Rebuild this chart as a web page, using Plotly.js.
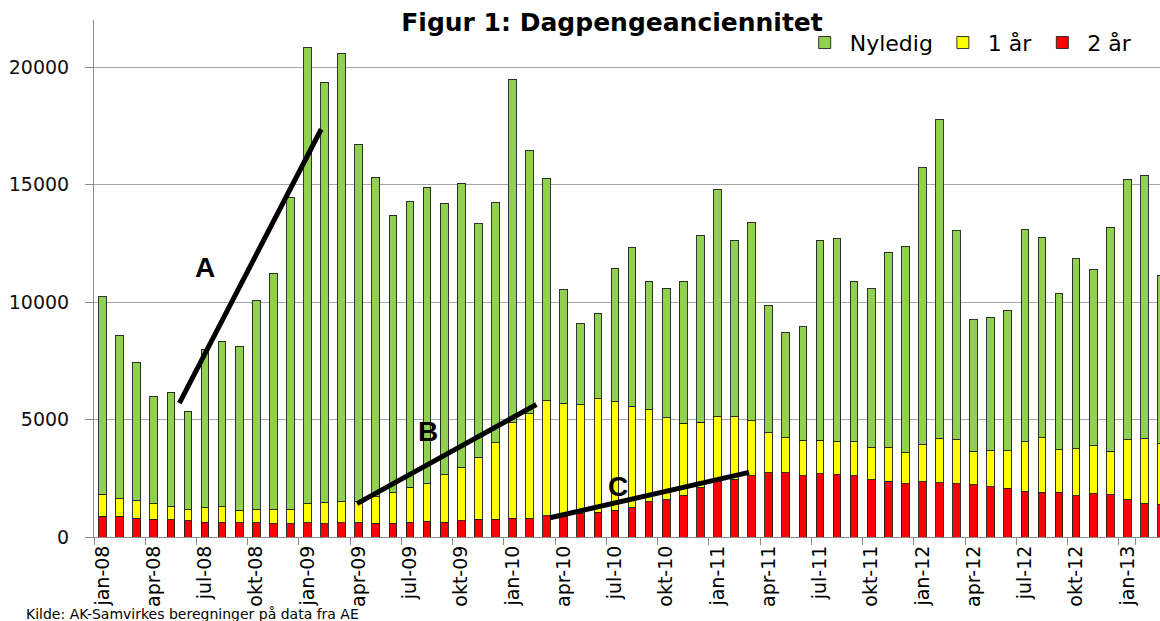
<!DOCTYPE html>
<html>
<head>
<meta charset="utf-8">
<script src="https://cdn.plot.ly/plotly-3.0.1.min.js"></script>
<style>
html,body{margin:0;padding:0;background:#fff;}
#chart{width:1160px;height:621px;}
</style>
</head>
<body>
<div id="chart"></div>
<script>
var months = ["jan-08","feb-08","mar-08","apr-08","mai-08","jun-08","jul-08","aug-08","sep-08","okt-08","nov-08","des-08",
"jan-09","feb-09","mar-09","apr-09","mai-09","jun-09","jul-09","aug-09","sep-09","okt-09","nov-09","des-09",
"jan-10","feb-10","mar-10","apr-10","mai-10","jun-10","jul-10","aug-10","sep-10","okt-10","nov-10","des-10",
"jan-11","feb-11","mar-11","apr-11","mai-11","jun-11","jul-11","aug-11","sep-11","okt-11","nov-11","des-11",
"jan-12","feb-12","mar-12","apr-12","mai-12","jun-12","jul-12","aug-12","sep-12","okt-12","nov-12","des-12",
"jan-13","feb-13","mar-13"];

var tickLabels = ["jan-08","apr-08","jul-08","okt-08","jan-09","apr-09","jul-09","okt-09","jan-10","apr-10","jul-10","okt-10",
"jan-11","apr-11","jul-11","okt-11","jan-12","apr-12","jul-12","okt-12","jan-13"];

var toAar = [885,885,800,757,732,689,630,630,604,604,562,562,604,562,604,600,595,587,630,672,630,689,757,757,800,800,902,880,987,1055,1128,1250,1498,1583,1753,2093,2350,2460,2604,2732,2732,2604,2689,2647,2604,2447,2362,2276,2349,2306,2276,2221,2149,2076,1949,1906,1906,1753,1838,1796,1583,1413,1383];

var etAar = [936,740,740,656,566,468,625,668,524,566,595,608,809,906,894,920,1115,1294,1489,1604,2017,2281,2639,3264,4059,4455,4893,4800,4651,4825,4625,4316,3914,3489,3089,2792,2765,2655,2353,1714,1489,1515,1430,1429,1447,1348,1433,1307,1574,1872,1860,1430,1532,1605,2115,2315,1817,2000,2043,1855,2553,2765,2583];

var nyledig = [8404,6953,5890,4570,4872,4204,6745,7025,6999,8897,10059,13297,19437,17875,19079,15185,13608,11820,12148,12616,11548,12093,9935,10203,14612,11212,9464,4843,3438,3651,5676,6756,5464,5523,6034,7948,9692,7505,8446,5409,4485,4829,8501,8630,6825,6770,8332,8799,11791,13608,8897,5595,5680,5978,9012,8527,6642,8089,7505,9522,11097,11208,7165];

// trend-line annotations (A, B, C): [x0, y0, x1, y1] in month-index / value units
var trendA = [4.5, 5700, 12.8, 17350];
var trendB = [14.9, 1420, 25.4, 5640];
var trendC = [26.2, 820, 37.85, 2750];
var trendLabels = [{t:"A", x:6.0, y:11460}, {t:"B", x:19.06, y:4490}, {t:"C", x:30.18, y:2150}];

var lineStyle = {color:"rgba(30,30,30,0.9)", width:1};
var bw = 0.45;

var traces = [
  {type:"bar", name:"2 år", x:months, y:toAar, width:bw, marker:{color:"#FF0000", line:lineStyle}},
  {type:"bar", name:"1 år", x:months, y:etAar, width:bw, marker:{color:"#FFFF00", line:lineStyle}},
  {type:"bar", name:"Nyledig", x:months, y:nyledig, width:bw, marker:{color:"#92D050", line:lineStyle}}
];

function seg(a){
  return {type:"line", xref:"x", yref:"y", x0:a[0], y0:a[1], x1:a[2], y1:a[3],
          line:{color:"#000", width:5}};
}

var layout = {
  width:1160, height:621,
  margin:{l:94, r:0, t:20.4, b:83.6},
  paper_bgcolor:"#fff", plot_bgcolor:"#fff",
  barmode:"stack", bargap:0,
  font:{family:"DejaVu Sans", color:"#000"},
  title:{text:"Figur 1: Dagpengeanciennitet", font:{family:"DejaVu Sans", size:25, weight:"bold", color:"#000"},
         xref:"container", x:0.5276, xanchor:"center", yref:"container", y:0.964, yanchor:"middle"},
  showlegend:true,
  legend:{orientation:"h", traceorder:"reversed", x:0.662, xanchor:"left", y:0.956, yanchor:"middle",
          font:{size:22, color:"#000"}, bgcolor:"rgba(0,0,0,0)", itemwidth:40},
  xaxis:{type:"category", range:[-0.5, 61.91], tickmode:"array", tickvals:tickLabels, ticktext:tickLabels,
         tickson:"boundaries", ticks:"outside", ticklen:7, tickcolor:"#8c8c8c", tickangle:-90,
         tickfont:{size:19, color:"#000"}, showgrid:false, showline:true, linecolor:"#8c8c8c", linewidth:1,
         zeroline:false, fixedrange:true},
  yaxis:{range:[0, 22000], tickvals:[0,5000,10000,15000,20000], ticktext:["0","5000","10000","15000","20000"],
         ticks:"outside", ticklen:8, tickcolor:"#8c8c8c", tickfont:{size:19, color:"#111"},
         showgrid:true, gridcolor:"#a6a6a6", gridwidth:1, showline:true, linecolor:"#8c8c8c", linewidth:1,
         zeroline:false, ticklabelstandoff:12},
  shapes:[seg(trendA), seg(trendB), seg(trendC)],
  annotations: trendLabels.map(function(l){
    return {text:l.t, x:l.x, y:l.y, xref:"x", yref:"y", showarrow:false,
            font:{family:"Liberation Sans", size:28, weight:"bold", color:"#000"}};
  }).concat([
    {text:"Kilde: AK-Samvirkes beregninger på data fra AE", xref:"paper", yref:"paper",
     x:-0.0657, xanchor:"left", y:-0.149, yanchor:"middle", showarrow:false,
     font:{family:"DejaVu Sans", size:14, color:"#000"}}
  ])
};

Plotly.newPlot("chart", traces, layout, {displayModeBar:false, staticPlot:true});
</script>
</body>
</html>
